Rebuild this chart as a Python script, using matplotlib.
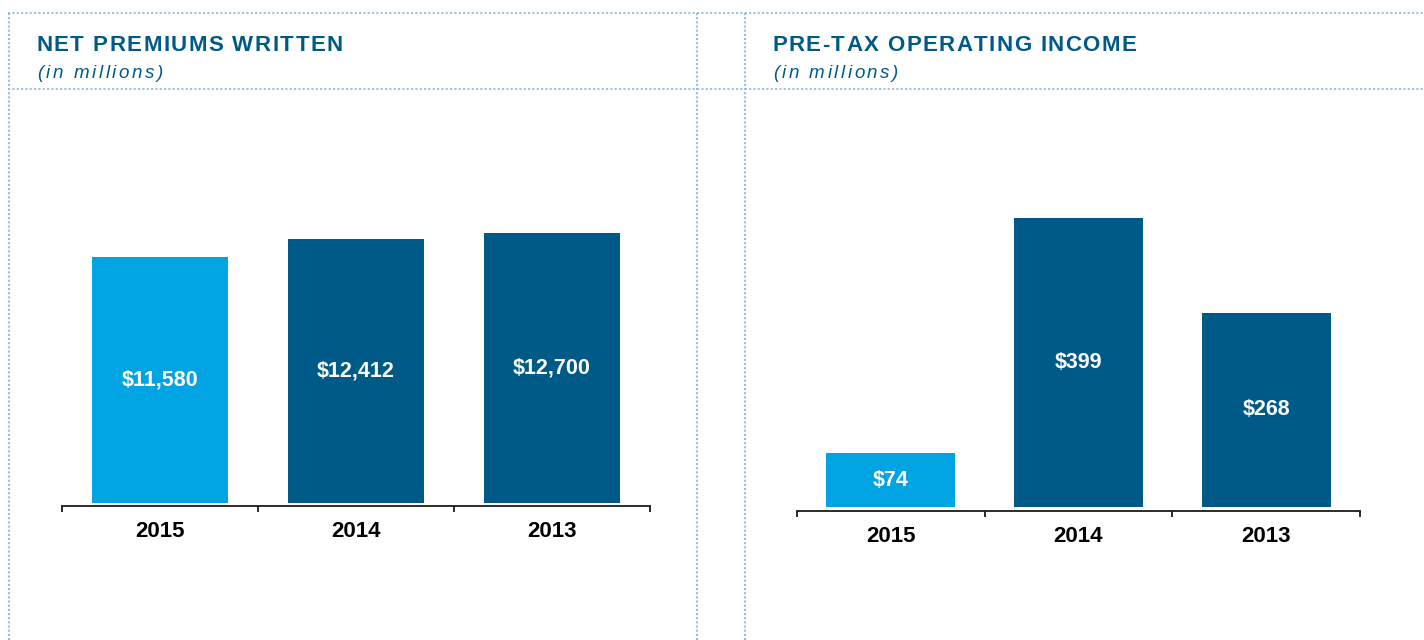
import matplotlib
matplotlib.use("Agg")
import matplotlib.pyplot as plt
from matplotlib.lines import Line2D
from matplotlib.font_manager import FontProperties

# ---------------- data ----------------
years = ["2015", "2014", "2013"]
premiums = [11580, 12412, 12700]
pretax_income = [74, 399, 268]
title_left = "NET PREMIUMS WRITTEN"
title_right = "PRE-TAX OPERATING INCOME"
subtitle = "(in millions)"

# ---------------- style ----------------
W, H = 1424, 640
DPI = 100
LIGHT = "#00A4E3"
DARK = "#005A87"
TITLE_C = "#005A86"
DOT_C = "#94bfd8"
AXIS_C = "#1a1a1a"
FONT = "Liberation Sans"

plt.rcParams["font.family"] = [FONT, "DejaVu Sans"]

fig = plt.figure(figsize=(W / DPI, H / DPI), dpi=DPI)
fig.patch.set_facecolor("white")


def fx(px):
    return px / W


def fy(py):
    return 1 - py / H


# dotted frame lines
def hline(y, x0, x1):
    fig.add_artist(Line2D([fx(x0), fx(x1)], [fy(y), fy(y)], transform=fig.transFigure,
                          color=DOT_C, lw=1.3, ls=(0, (1.2, 1.2))))


def vline(x, y0, y1):
    fig.add_artist(Line2D([fx(x), fx(x)], [fy(y0), fy(y1)], transform=fig.transFigure,
                          color=DOT_C, lw=1.5, ls=(0, (1.0, 1.0))))


hline(13, 8, W)
hline(89, 8, W)
vline(9, 13, H)
vline(697, 13, H)
vline(745, 13, H)

renderer = fig.canvas.get_renderer()


def spaced_text(x0, x1, y, s, fp, color):
    widths = [renderer.get_text_width_height_descent(c, fp, ismath=False)[0] for c in s]
    natural = sum(widths)
    spacing = (x1 - x0 - natural) / (len(s) - 1)
    x = x0
    for c, w in zip(s, widths):
        fig.text(fx(x), fy(y), c, fontproperties=fp, color=color, ha="left", va="baseline")
        x += w + spacing


fp_title = FontProperties(family=FONT, weight="bold", size=16)
fp_sub = FontProperties(family=FONT, style="italic", size=13.5)

spaced_text(36, 343, 51, title_left, fp_title, TITLE_C)
spaced_text(37, 163, 78, subtitle, fp_sub, TITLE_C)
spaced_text(772, 1136, 51, title_right, fp_title, TITLE_C)
spaced_text(773, 898, 78, subtitle, fp_sub, TITLE_C)


def make_panel(x0, x1, y_axis, y_zero, units_per_px, values, bar_w, top_px=100):
    ax = fig.add_axes([fx(x0), fy(y_axis), fx(x1) - fx(x0), (y_axis - top_px) / H])
    ax.set_facecolor("none")
    colors = [LIGHT, DARK, DARK]
    xs = list(range(len(values)))
    ax.bar(xs, values, width=bar_w, color=colors, zorder=2)
    for x, v in zip(xs, values):
        ax.text(x, v / 2, f"${v:,}", ha="center", va="center", color="white",
                fontsize=15.5, fontweight="bold", family=FONT, zorder=3)
    ax.set_xlim(-0.5, len(values) - 0.5)
    ax.set_ylim(-(y_axis - y_zero) * units_per_px, (y_zero - top_px) * units_per_px)
    for s in ["top", "left", "right"]:
        ax.spines[s].set_visible(False)
    ax.spines["bottom"].set_color(AXIS_C)
    ax.spines["bottom"].set_linewidth(1.3)
    ax.set_yticks([])
    ax.set_xticks([i - 0.5 for i in range(len(values) + 1)])
    ax.set_xticklabels([])
    ax.tick_params(axis="x", which="major", direction="out", length=4.5, width=1.3, color=AXIS_C)
    ax.set_xticks(xs, minor=True)
    ax.set_xticklabels(years, minor=True)
    ax.tick_params(axis="x", which="minor", length=0, pad=11)
    for lab in ax.get_xticklabels(minor=True):
        lab.set_fontsize(16)
        lab.set_fontweight("bold")
        lab.set_color("black")
        lab.set_family(FONT)
    return ax


make_panel(62, 650, 506, 503, 47.06, premiums, 0.694)
make_panel(797, 1360, 511, 507, 1.38, pretax_income, 0.687)

fig.savefig("out.png", dpi=DPI, facecolor="white")
